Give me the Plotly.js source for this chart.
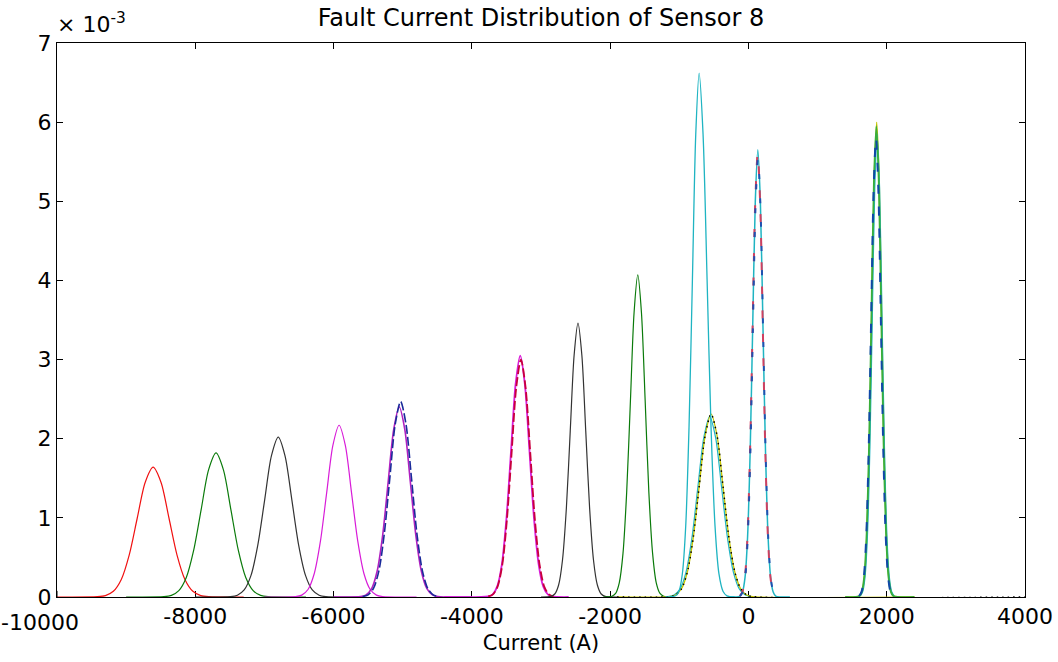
<!DOCTYPE html>
<html>
<head>
<meta charset="utf-8">
<script src="https://cdn.plot.ly/plotly-3.0.1.min.js"></script>
<style>html,body{margin:0;padding:0;background:#fff;}#chart{width:1058px;height:662px;}</style>
</head>
<body>
<div id="chart"></div>
<script>
// ---- Data (current in A, density in units of 1e-3) ----
const xTicks = [-8000, -6000, -4000, -2000, 0, 2000, 4000];
const xFirstTick = -10000;
const yTicks = [0, 1, 2, 3, 4, 5, 6, 7];

const redA_x = [-10000, -9415, -9300, -9185, -9070, -8955, -8840, -8725, -8610, -8495, -8380, -8265, -8150, -8035, -7920, -7805, -7300];
const redA_y = [0, 0.004, 0.018, 0.072, 0.222, 0.533, 0.995, 1.447, 1.64, 1.447, 0.995, 0.533, 0.222, 0.072, 0.018, 0.004, 0];

const greenA_x = [-9000, -8453, -8345, -8238, -8130, -8023, -7915, -7808, -7700, -7593, -7485, -7378, -7270, -7163, -7055, -6948, -6400];
const greenA_y = [0, 0.004, 0.020, 0.080, 0.246, 0.591, 1.104, 1.606, 1.82, 1.606, 1.104, 0.591, 0.246, 0.080, 0.020, 0.004, 0];

const blackA_x = [-8000, -7490, -7391, -7293, -7194, -7096, -6997, -6899, -6800, -6702, -6603, -6505, -6406, -6308, -6209, -6111, -5600];
const blackA_y = [0, 0.004, 0.022, 0.089, 0.273, 0.656, 1.225, 1.783, 2.02, 1.783, 1.225, 0.656, 0.273, 0.089, 0.022, 0.004, 0];

const magA_x = [-7000, -6550, -6460, -6370, -6280, -6190, -6100, -6010, -5920, -5830, -5740, -5650, -5560, -5470, -5380, -5290, -4800];
const magA_y = [0, 0.005, 0.024, 0.095, 0.294, 0.705, 1.316, 1.915, 2.17, 1.915, 1.316, 0.705, 0.294, 0.095, 0.024, 0.005, 0];

const magB_x = [-6000, -5610, -5530, -5450, -5370, -5290, -5210, -5130, -5050, -4970, -4890, -4810, -4730, -4650, -4570, -4490, -4000];
const magB_y = [0, 0.005, 0.027, 0.105, 0.325, 0.779, 1.456, 2.118, 2.40, 2.118, 1.456, 0.779, 0.325, 0.105, 0.027, 0.005, 0];

const blueB_x = [-5580, -5501, -5423, -5344, -5266, -5187, -5109, -5030, -4952, -4873, -4795, -4716, -4638, -4559, -4481];
const blueB_y = [0.005, 0.027, 0.108, 0.334, 0.802, 1.498, 2.180, 2.47, 2.180, 1.498, 0.802, 0.334, 0.108, 0.027, 0.005];

const magC_x = [-4400, -3766, -3699, -3633, -3566, -3500, -3433, -3367, -3300, -3234, -3167, -3101, -3034, -2968, -2901, -2835, -2600];
const magC_y = [0, 0.007, 0.034, 0.134, 0.413, 0.990, 1.850, 2.692, 3.05, 2.692, 1.850, 0.990, 0.413, 0.134, 0.034, 0.007, 0];

const redC_x = [-3763, -3695, -3628, -3560, -3493, -3425, -3358, -3290, -3223, -3155, -3088, -3020, -2953, -2885, -2818];
const redC_y = [0.007, 0.033, 0.132, 0.406, 0.974, 1.820, 2.648, 3.0, 2.648, 1.820, 0.974, 0.406, 0.132, 0.033, 0.007];

const blackD_x = [-3000, -2857, -2801, -2745, -2689, -2633, -2577, -2521, -2465, -2409, -2353, -2297, -2241, -2185, -2129, -2073, -1900];
const blackD_y = [0, 0.008, 0.038, 0.152, 0.468, 1.124, 2.099, 3.054, 3.46, 3.054, 2.099, 1.124, 0.468, 0.152, 0.038, 0.008, 0];

const greenE_x = [-2100, -1975, -1921, -1868, -1814, -1761, -1707, -1654, -1600, -1547, -1493, -1440, -1386, -1333, -1279, -1226, -1100];
const greenE_y = [0, 0.009, 0.045, 0.179, 0.551, 1.322, 2.469, 3.592, 4.07, 3.592, 2.469, 1.322, 0.551, 0.179, 0.045, 0.009, 0];

const cyanF_x = [-1200, -1053, -1004, -956, -907, -859, -810, -762, -713, -656, -598, -541, -483, -426, -368, -311, -200];
const cyanF_y = [0, 0.015, 0.073, 0.291, 0.896, 2.150, 4.015, 5.842, 6.62, 5.842, 4.015, 2.150, 0.896, 0.291, 0.073, 0.015, 0];

const cyanG_x = [-1162, -1076, -990, -904, -818, -732, -646, -560, -474, -388, -302, -216, -130, -44, 42];
const cyanG_y = [0.005, 0.025, 0.100, 0.309, 0.740, 1.383, 2.012, 2.28, 2.012, 1.383, 0.740, 0.309, 0.100, 0.025, 0.005];

const yellowG_x = [-1900, -1142, -1056, -970, -884, -798, -712, -626, -540, -454, -368, -282, -196, -110, -24, 62, 2400];
const yellowG_y = [0, 0.005, 0.026, 0.101, 0.313, 0.750, 1.401, 2.039, 2.31, 2.039, 1.401, 0.750, 0.313, 0.101, 0.026, 0.005, 0];

const dotG_x = [-1900, -1142, -1056, -970, -884, -798, -712, -626, -540, -454, -368, -282, -196, -110, -24, 62, 4000];
const dotG_y = [0, 0.005, 0.026, 0.101, 0.313, 0.750, 1.401, 2.039, 2.31, 2.039, 1.401, 0.750, 0.313, 0.101, 0.026, 0.005, 0];

const cyanH_x = [-300, -123, -86, -49, -12, 25, 62, 99, 136, 173, 210, 247, 284, 321, 358, 395, 600];
const cyanH_y = [0, 0.012, 0.063, 0.248, 0.764, 1.835, 3.427, 4.986, 5.65, 4.986, 3.427, 1.835, 0.764, 0.248, 0.063, 0.012, 0];

const redH_x = [-125, -88, -51, -14, 23, 60, 97, 134, 171, 208, 245, 282, 319, 356, 393];
const redH_y = [0.012, 0.062, 0.246, 0.758, 1.818, 3.396, 4.942, 5.6, 4.942, 3.396, 1.818, 0.758, 0.246, 0.062, 0.012];

const blueH_x = [-121, -84, -47, -10, 27, 64, 101, 138, 175, 212, 249, 286, 323, 360, 397];
const blueH_y = [0.012, 0.062, 0.244, 0.751, 1.802, 3.366, 4.898, 5.55, 4.898, 3.366, 1.802, 0.751, 0.244, 0.062, 0.012];

const yellowK_x = [1400, 1610, 1645, 1680, 1715, 1750, 1785, 1820, 1855, 1890, 1925, 1960, 1995, 2030, 2065, 2100, 2400];
const yellowK_y = [0, 0.013, 0.067, 0.263, 0.812, 1.948, 3.639, 5.295, 6.0, 5.295, 3.639, 1.948, 0.812, 0.263, 0.067, 0.013, 0];

const cyanK_x = [1615, 1650, 1685, 1720, 1755, 1790, 1825, 1860, 1895, 1930, 1965, 2000, 2035, 2070, 2105];
const cyanK_y = [0.013, 0.065, 0.257, 0.792, 1.900, 3.548, 5.163, 5.85, 5.163, 3.548, 1.900, 0.792, 0.257, 0.065, 0.013];

const greenK_x = [1400, 1605, 1640, 1675, 1710, 1745, 1780, 1815, 1850, 1885, 1920, 1955, 1990, 2025, 2060, 2095, 2400];
const greenK_y = [0, 0.013, 0.066, 0.261, 0.805, 1.932, 3.609, 5.251, 5.95, 5.251, 3.609, 1.932, 0.805, 0.261, 0.066, 0.013, 0];

const blueK_x = [1600, 1635, 1670, 1705, 1740, 1775, 1810, 1845, 1880, 1915, 1950, 1985, 2020, 2055, 2090];
const blueK_y = [0.013, 0.064, 0.255, 0.785, 1.883, 3.518, 5.119, 5.8, 5.119, 3.518, 1.883, 0.785, 0.255, 0.064, 0.013];

// ---- Styles ----
const C = {
  red: '#f01010', green: '#0a7a0a', black: '#333333', magenta: '#d81cd8',
  blue: '#1a2a9a', cyan: '#1fb4c2', yellow: '#c4c400', green2: '#3aae3a'
};
function tr(x, y, color, width, dash) {
  return {x: x, y: y, type: 'scatter', mode: 'lines', hoverinfo: 'skip',
    line: {color: color, width: width || 1.2, dash: dash || 'solid', shape: 'spline', smoothing: 0.8}};
}
const traces = [
  tr(redA_x, redA_y, C.red),
  tr(greenA_x, greenA_y, C.green),
  tr(blackA_x, blackA_y, C.black),
  tr(magA_x, magA_y, C.magenta),
  tr(magB_x, magB_y, '#b020c0', 1.6),
  tr(blueB_x, blueB_y, C.blue, 1.6, '9px,3px'),
  tr(magC_x, magC_y, C.magenta, 1.8),
  tr(redC_x, redC_y, '#c8003c', 1.8, '9px,3px'),
  tr(blackD_x, blackD_y, C.black),
  tr(greenE_x, greenE_y, C.green),
  tr(cyanG_x, cyanG_y, C.cyan),
  tr(yellowG_x, yellowG_y, C.yellow, 1.3),
  tr(dotG_x, dotG_y, '#000000', 1.5, '1.5px,4px'),
  tr(cyanF_x, cyanF_y, C.cyan, 1.3),
  tr(cyanH_x, cyanH_y, C.cyan, 1.5),
  tr(redH_x, redH_y, '#d04060', 2, '8px,16px'),
  tr(blueH_x, blueH_y, '#2050b0', 2, '5px,19px'),
  tr(yellowK_x, yellowK_y, C.yellow, 1.5),
  tr(cyanK_x, cyanK_y, C.cyan, 1.5),
  tr(greenK_x, greenK_y, C.green2, 1.8),
  tr(blueK_x, blueK_y, '#1048a8', 2, '9px,13px')
];

const FONT = 'DejaVu Sans, Liberation Sans, Arial, sans-serif';
const layout = {
  width: 1058, height: 662,
  margin: {l: 57, r: 33, t: 43, b: 65, pad: 0},
  paper_bgcolor: '#ffffff', plot_bgcolor: '#ffffff',
  showlegend: false,
  font: {family: FONT, color: '#000000', size: 22},
  title: {text: 'Fault Current Distribution of Sensor 8', font: {family: FONT, size: 24, color: '#000'},
          x: 0.5, xref: 'paper', xanchor: 'center', y: 0.973, yref: 'container', yanchor: 'middle'},
  xaxis: {
    range: [-10000, 4000], tickvals: xTicks, ticktext: xTicks.map(String),
    ticks: 'inside', ticklen: 6, tickwidth: 1, tickcolor: '#000',
    showline: true, linecolor: '#000', linewidth: 1, mirror: 'ticks',
    showgrid: false, zeroline: false, layer: 'below traces',
    tickfont: {family: FONT, size: 22, color: '#000'},
    title: {text: 'Current (A)', font: {family: FONT, size: 21, color: '#000'}, standoff: 6}
  },
  yaxis: {
    range: [0, 7], tickvals: yTicks, ticktext: yTicks.map(String),
    ticks: 'inside', ticklen: 6, tickwidth: 1, tickcolor: '#000',
    showline: true, linecolor: '#000', linewidth: 1, mirror: 'ticks',
    showgrid: false, zeroline: false, layer: 'below traces',
    tickfont: {family: FONT, size: 22, color: '#000'}
  },
  annotations: [
    {text: '× 10<sup>-3</sup>', xref: 'paper', yref: 'paper', x: 0, y: 1,
     xanchor: 'left', yanchor: 'bottom', showarrow: false, xshift: -2, yshift: 4,
     font: {family: FONT, size: 22, color: '#000'}},
    {text: String(xFirstTick), xref: 'x', yref: 'paper', x: xFirstTick, y: 0,
     xanchor: 'left', yanchor: 'top', showarrow: false, xshift: -57, yshift: -12,
     borderpad: 0, font: {family: FONT, size: 22, color: '#000'}}
  ],
  shapes: [
    {type: 'line', xref: 'x', yref: 'paper', x0: xFirstTick, x1: xFirstTick, y0: 0, y1: 0.011, line: {color: '#000', width: 1}}
  ]
};
Plotly.newPlot('chart', traces, layout, {displayModeBar: false, staticPlot: true});
</script>
</body>
</html>
